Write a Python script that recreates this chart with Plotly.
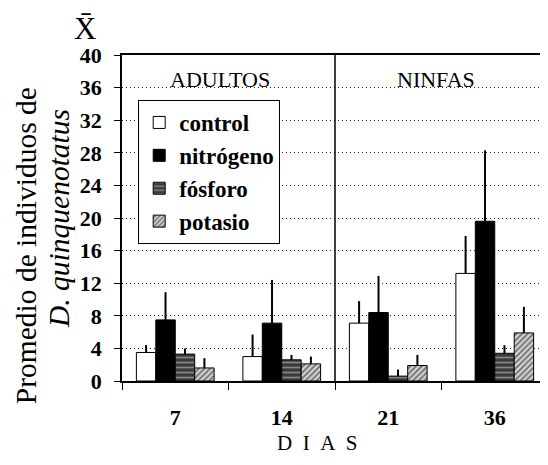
import plotly.graph_objects as go

dias = ["7", "14", "21", "36"]
series = ["control", "nitrógeno", "fósforo", "potasio"]
control = [3.5, 3.0, 7.1, 13.2]
nitrogeno = [7.5, 7.1, 8.4, 19.6]
fosforo = [3.3, 2.6, 0.6, 3.4]
potasio = [1.6, 2.1, 1.9, 5.9]
control_err = [0.9, 2.7, 2.7, 4.6]
nitrogeno_err = [3.4, 5.3, 4.5, 8.7]
fosforo_err = [0.7, 0.6, 0.8, 1.0]
potasio_err = [1.2, 0.9, 1.3, 3.2]
y_ticks = [0, 4, 8, 12, 16, 20, 24, 28, 32, 36, 40]

FONT = "Liberation Serif"

values = [control, nitrogeno, fosforo, potasio]
errs = [control_err, nitrogeno_err, fosforo_err, potasio_err]
styles = [
    dict(color="white", pattern=None),
    dict(color="black", pattern=None),
    dict(color="#3a3a3a", pattern=dict(shape="-", fgcolor="#d0d0d0", size=5, solidity=0.35)),
    dict(color="#d9d9d9", pattern=dict(shape="/", fgcolor="#111111", size=4, solidity=0.5)),
]

fig = go.Figure()
for name, v, e, st in zip(series, values, errs, styles):
    marker = dict(color=st["color"], line=dict(color="black", width=1))
    if st["pattern"]:
        marker["pattern"] = st["pattern"]
    fig.add_trace(go.Bar(
        x=dias, y=v, name=name, marker=marker, legendgroup=name,
        error_y=dict(type="data", array=e, arrayminus=[0] * len(e), symmetric=False,
                     color="black", thickness=2, width=0),
    ))

fig.update_layout(
    width=540, height=457,
    margin=dict(l=114, r=0, t=47, b=84),
    paper_bgcolor="white", plot_bgcolor="white",
    barmode="group", bargap=0.27, bargroupgap=0,
    font=dict(family=FONT, color="black"),
    showlegend=True,
    legend=dict(
        x=0.038, y=0.862, xanchor="left", yanchor="top",
        bgcolor="white", bordercolor="black", borderwidth=1,
        font=dict(family=FONT, size=23, color="black", weight="bold"),
        tracegroupgap=0, itemwidth=30,
    ),
    xaxis=dict(
        showline=True, linecolor="black", linewidth=1.5, mirror=True,
        ticks="outside", tickson="boundaries", ticklen=7, tickcolor="black",
        tickfont=dict(family=FONT, size=22, color="black", weight="bold"),
        ticklabelstandoff=16,
        showgrid=False,
    ),
    yaxis=dict(
        range=[0, 40], tickvals=y_ticks, showline=True, linecolor="black", linewidth=1.5,
        ticks="outside", ticklen=6, tickcolor="black",
        tickfont=dict(family=FONT, size=22, color="black", weight="bold"),
        ticklabelstandoff=8,
        showgrid=True, gridcolor="#222222", griddash="1px,3px", gridwidth=1,
        zeroline=False,
    ),
)

fig.add_shape(type="line", xref="x", yref="y", x0=1.5, x1=1.5, y0=0, y1=40,
              line=dict(color="black", width=1.5))

fig.add_annotation(x=0.42, y=37.0, xref="x", yref="y", text="ADULTOS", showarrow=False,
                   xanchor="center", yanchor="middle", font=dict(family=FONT, size=22, color="black"))
fig.add_annotation(x=2.45, y=37.0, xref="x", yref="y", text="NINFAS", showarrow=False,
                   xanchor="center", yanchor="middle", font=dict(family=FONT, size=22, color="black"))
fig.add_annotation(x=-0.225, y=0.414, xref="paper", yref="paper", textangle=-90,
                   xanchor="center", yanchor="middle",
                   text="Promedio de individuos de", showarrow=False,
                   font=dict(family=FONT, size=29.5, color="black"))
fig.add_annotation(x=-0.148, y=0.5, xref="paper", yref="paper", textangle=-90,
                   xanchor="center", yanchor="middle",
                   text="<i>D. quinquenotatus</i>", showarrow=False,
                   font=dict(family=FONT, size=29.5, color="black"))
fig.add_annotation(x=-0.088, y=1.08, xref="paper", yref="paper",
                   xanchor="center", yanchor="middle",
                   text="X\u0304", showarrow=False,
                   font=dict(family=FONT, size=31, color="black"))
fig.add_annotation(x=0.46, y=-0.19, xref="paper", yref="paper",
                   xanchor="center", yanchor="middle",
                   text="D\u00a0\u00a0I\u00a0\u00a0A\u00a0\u00a0S", showarrow=False,
                   font=dict(family=FONT, size=21, color="black"))

fig.write_html("out.html")
